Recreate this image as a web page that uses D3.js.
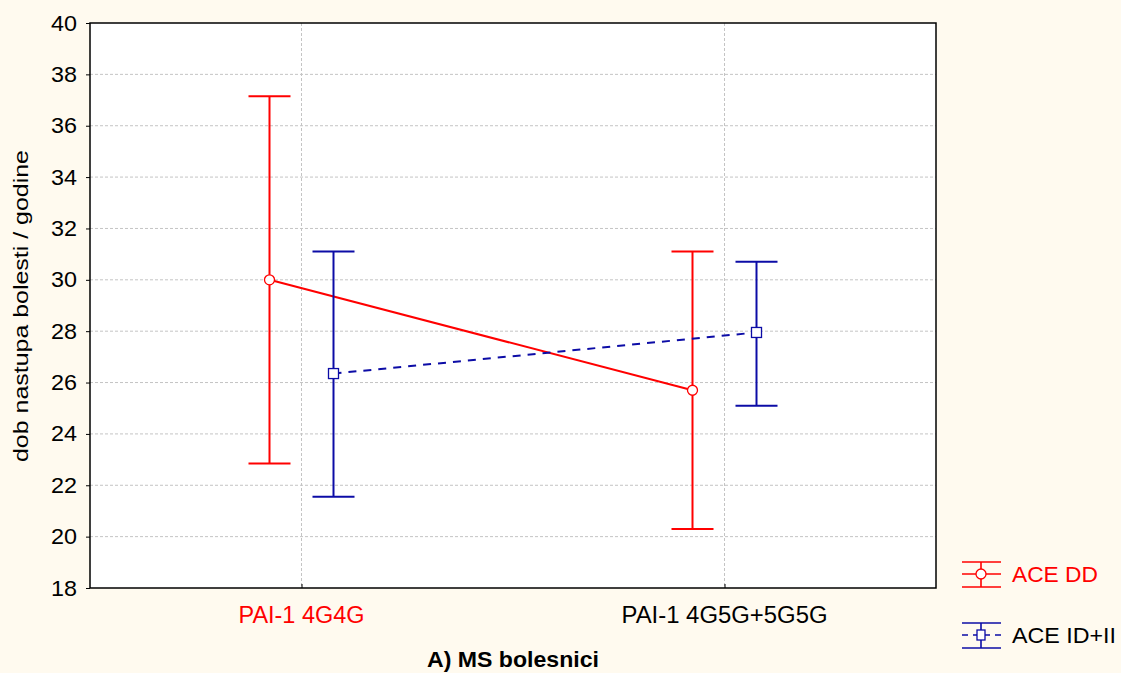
<!DOCTYPE html>
<html><head><meta charset="utf-8">
<script src="https://cdn.jsdelivr.net/npm/d3@7"></script>
<style>
html,body{margin:0;padding:0;background:#FFFAEF;}
svg{display:block;font-family:Arial,"Liberation Sans",sans-serif;}
</style></head>
<body><svg id="c" width="1121" height="673"></svg>
<script>
const categories = ["PAI-1 4G4G", "PAI-1 4G5G+5G5G"];
const seriesNames = ["ACE DD", "ACE ID+II"];
const ddMean = [30.0, 25.7];
const ddLow = [22.85, 20.3];
const ddHigh = [37.15, 31.1];
const idMean = [26.35, 27.95];
const idLow = [21.55, 25.1];
const idHigh = [31.1, 30.7];
const yTicks = [18, 20, 22, 24, 26, 28, 30, 32, 34, 36, 38, 40];
const catLabelColors = ["#ff0000", "#000000"];
const legendTextColors = ["#ff0000", "#000000"];
const xTitle = "A) MS bolesnici";
const yTitle = "dob nastupa bolesti / godine";

const svg = d3.select("#c");
const L = 90, R = 936, T = 23, B = 588;
const x = d3.scalePoint().domain(categories).range([L, R]).padding(0.5);
const y = d3.scaleLinear().domain([18, 40]).range([B, T]);
const off = d3.scalePoint().domain(seriesNames).range([-32, 32]);

svg.append("rect").attr("x", L).attr("y", T).attr("width", R - L).attr("height", B - T).attr("fill", "#fff");

// gridlines
svg.append("g").selectAll("line").data(yTicks.filter(t => t > 18 && t < 40)).join("line")
  .attr("x1", L).attr("x2", R).attr("y1", d => y(d)).attr("y2", d => y(d))
  .attr("stroke", "#c4c4c4").attr("stroke-dasharray", "3,2").attr("stroke-width", 1);
svg.append("g").selectAll("line").data(categories).join("line")
  .attr("x1", d => x(d)).attr("x2", d => x(d)).attr("y1", T).attr("y2", B)
  .attr("stroke", "#c4c4c4").attr("stroke-dasharray", "3,2").attr("stroke-width", 1);

// axes
const yAxis = svg.append("g").attr("transform", `translate(${L},0)`)
  .call(d3.axisLeft(y).tickValues(yTicks).tickSize(4).tickPadding(9));
yAxis.select(".domain").remove();
yAxis.selectAll("text").attr("font-size", 22).attr("fill", "#000")
  .attr("font-family", "Arial, 'Liberation Sans', sans-serif")
  .attr("textLength", 26).attr("lengthAdjust", "spacingAndGlyphs");
yAxis.selectAll("line").attr("stroke", "#000");

const xAxis = svg.append("g").attr("transform", `translate(0,${B})`)
  .call(d3.axisTop(x).tickSize(4).tickFormat(""));
xAxis.select(".domain").remove();
xAxis.selectAll("line").attr("stroke", "#000");
const catLens = [126, 206];
svg.append("g").selectAll("text").data(categories).join("text")
  .attr("x", d => x(d)).attr("y", 623).attr("text-anchor", "middle")
  .attr("font-size", 23).attr("fill", (d, i) => catLabelColors[i])
  .attr("textLength", (d, i) => catLens[i]).attr("lengthAdjust", "spacingAndGlyphs").text(d => d);

svg.append("rect").attr("x", L).attr("y", T).attr("width", R - L).attr("height", B - T)
  .attr("fill", "none").attr("stroke", "#000").attr("stroke-width", 1.5);

// titles
svg.append("text").attr("x", (L + R) / 2).attr("y", 667).attr("text-anchor", "middle")
  .attr("font-size", 22).attr("font-weight", "bold")
  .attr("textLength", 172).attr("lengthAdjust", "spacingAndGlyphs").text(xTitle);
svg.append("text").attr("transform", `translate(28,306) rotate(-90)`)
  .attr("text-anchor", "middle").attr("font-size", 21)
  .attr("textLength", 312).attr("lengthAdjust", "spacingAndGlyphs").text(yTitle);

const series = [
  {name: seriesNames[0], mean: ddMean, lo: ddLow, hi: ddHigh, color: "#ff0000", dash: null, marker: "circle"},
  {name: seriesNames[1], mean: idMean, lo: idLow, hi: idHigh, color: "#0c0ca6", dash: "8,7", marker: "square"}
];

series.forEach(s => {
  const g = svg.append("g");
  const px = i => x(categories[i]) + off(s.name);
  const idx = categories.map((c, i) => i);
  g.append("path").datum(idx)
    .attr("d", d3.line().x(i => px(i)).y(i => y(s.mean[i])))
    .attr("fill", "none").attr("stroke", s.color).attr("stroke-width", 2)
    .attr("stroke-dasharray", s.dash);
  idx.forEach(i => {
    g.append("line").attr("x1", px(i)).attr("x2", px(i)).attr("y1", y(s.lo[i])).attr("y2", y(s.hi[i]))
      .attr("stroke", s.color).attr("stroke-width", 2);
    [s.lo[i], s.hi[i]].forEach(v => g.append("line")
      .attr("x1", px(i) - 21).attr("x2", px(i) + 21).attr("y1", y(v)).attr("y2", y(v))
      .attr("stroke", s.color).attr("stroke-width", 2));
    if (s.marker === "circle") {
      g.append("circle").attr("cx", px(i)).attr("cy", y(s.mean[i])).attr("r", 5)
        .attr("fill", "#fff").attr("stroke", s.color).attr("stroke-width", 1.3);
    } else {
      g.append("rect").attr("x", px(i) - 5).attr("y", y(s.mean[i]) - 5).attr("width", 10).attr("height", 10)
        .attr("fill", "#fff").attr("stroke", s.color).attr("stroke-width", 1.3);
    }
  });
});

// legend
const legY = [574, 635];
const legLens = [86, 104];
series.forEach((s, k) => {
  const g = svg.append("g").attr("transform", `translate(981,${legY[k]})`);
  g.append("line").attr("x1", -19).attr("x2", 20).attr("y1", -12).attr("y2", -12).attr("stroke", s.color).attr("stroke-width", 1.6);
  g.append("line").attr("x1", -19).attr("x2", 20).attr("y1", 13).attr("y2", 13).attr("stroke", s.color).attr("stroke-width", 1.6);
  g.append("line").attr("x1", 0).attr("x2", 0).attr("y1", -12).attr("y2", 13).attr("stroke", s.color).attr("stroke-width", 1.6);
  g.append("line").attr("x1", -19).attr("x2", 20).attr("y1", 0).attr("y2", 0).attr("stroke", s.color).attr("stroke-width", 1.6)
    .attr("stroke-dasharray", s.dash ? "6,5" : null);
  if (s.marker === "circle") {
    g.append("circle").attr("r", 5).attr("fill", "#fff").attr("stroke", s.color).attr("stroke-width", 1.3);
  } else {
    g.append("rect").attr("x", -4).attr("y", -5).attr("width", 8).attr("height", 10).attr("fill", "#fff").attr("stroke", s.color).attr("stroke-width", 1.3);
  }
  svg.append("text").attr("x", 1012).attr("y", legY[k] + 8).attr("font-size", 22)
    .attr("fill", legendTextColors[k]).attr("textLength", legLens[k]).attr("lengthAdjust", "spacingAndGlyphs").text(s.name);
});
</script></body></html>
